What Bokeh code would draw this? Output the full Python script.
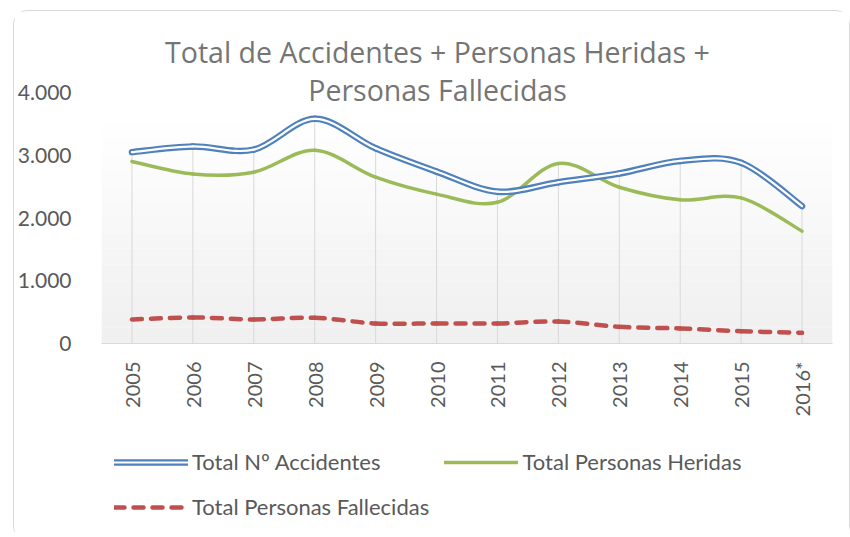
import math
from bokeh.plotting import figure
from bokeh.layouts import column
from bokeh.models import (Legend, LegendItem, Label, FixedTicker, BoxAnnotation,
                          ColumnDataSource, Range1d)
from bokeh.embed import file_html
from bokeh.resources import INLINE

# ---------------- data ----------------
years = ["2005", "2006", "2007", "2008", "2009", "2010",
         "2011", "2012", "2013", "2014", "2015", "2016*"]
accidentes = [3050, 3140, 3090, 3580, 3110, 2740, 2420, 2570, 2710, 2910, 2880, 2190]
heridas = [2900, 2700, 2730, 3080, 2650, 2380, 2250, 2870, 2490, 2290, 2320, 1790]
fallecidas = [383, 415, 383, 410, 320, 320, 320, 350, 265, 240, 196, 170]
y_ticks = [0, 1000, 2000, 3000, 4000]
y_tick_labels = ["0", "1.000", "2.000", "3.000", "4.000"]
title_lines = ["Total de Accidentes + Personas Heridas +", "Personas Fallecidas"]
series_names = ["Total Nº Accidentes", "Total Personas Heridas", "Total Personas Fallecidas"]

FONT = "Lato"
TITLE_FONT = "Open Sans"
TEXT = "#595959"
BLUE = "#4F81BD"
GREEN = "#9BBB59"
RED = "#C0504D"

idx = list(range(len(years)))


def smooth_source(vals):
    """Bezier control points (Excel-like smoothed line) from the data values."""
    n = len(vals)
    d = dict(x0=[], y0=[], x1=[], y1=[], cx0=[], cy0=[], cx1=[], cy1=[])
    for i in range(n - 1):
        p0 = (idx[max(i - 1, 0)], vals[max(i - 1, 0)])
        p1 = (idx[i], vals[i])
        p2 = (idx[i + 1], vals[i + 1])
        p3 = (idx[min(i + 2, n - 1)], vals[min(i + 2, n - 1)])
        d["x0"].append(p1[0]); d["y0"].append(p1[1])
        d["x1"].append(p2[0]); d["y1"].append(p2[1])
        d["cx0"].append(p1[0] + (p2[0] - p0[0]) / 6.0)
        d["cy0"].append(p1[1] + (p2[1] - p0[1]) / 6.0)
        d["cx1"].append(p2[0] - (p3[0] - p1[0]) / 6.0)
        d["cy1"].append(p2[1] - (p3[1] - p1[1]) / 6.0)
    return ColumnDataSource(d)


# style constants
A_STYLE = dict(line_color=BLUE, line_width=6.5, line_cap="round", line_join="round")
A_INNER = dict(line_color="white", line_width=2.2, line_cap="round", line_join="round")
H_STYLE = dict(line_color=GREEN, line_width=3.5, line_cap="round")
F_STYLE = dict(line_color=RED, line_width=4.5, line_dash="10 9", line_cap="round")

# layout: frame from y=0 (bottom) up to above the title so the title can overlap it
FRAME_H = 313          # px
SCALE_H = 251          # px spanned by 0..4000
y_top = 4000 * FRAME_H / SCALE_H

W = 835
H1 = 422
p = figure(width=W, height=H1, output_backend="svg", toolbar_location=None,
           x_range=Range1d(-0.5, len(years) - 0.5), y_range=Range1d(0, y_top),
           min_border_left=87, min_border_right=17, min_border_top=H1 - 90 - FRAME_H,
           min_border_bottom=90)
p.title.visible = False
p.outline_line_color = None
p.background_fill_color = "white"
p.border_fill_color = "white"
p.xgrid.visible = False
p.ygrid.visible = False

# plot-area gradient (style only)
nb = 14
gtop = 3525
for k in range(nb):
    c = int(round(255 - (255 - 239) * (k + 0.5) / nb))
    p.add_layout(BoxAnnotation(bottom=gtop - (k + 1) * gtop / nb, top=gtop - k * gtop / nb,
                               fill_color="#%02x%02x%02x" % (c, c, c), fill_alpha=1,
                               line_color=None, level="underlay"))

# drop lines from highest series to axis
drop_top = [max(a, b, c) for a, b, c in zip(accidentes, heridas, fallecidas)]
p.segment(x0=idx, y0=[0] * len(idx), x1=idx, y1=drop_top, line_color="#d9d9d9", line_width=1)

# series
src_a = smooth_source(accidentes)
src_h = smooth_source(heridas)
src_f = smooth_source(fallecidas)
bz = ("x0", "y0", "x1", "y1", "cx0", "cy0", "cx1", "cy1")
p.bezier(*bz, source=src_f, **F_STYLE)
p.bezier(*bz, source=src_h, **H_STYLE)
p.bezier(*bz, source=src_a, **A_STYLE)
p.bezier(*bz, source=src_a, **A_INNER)

# axes
xa = p.xaxis[0]
xa.ticker = FixedTicker(ticks=idx)
xa.major_label_overrides = {i: y for i, y in zip(idx, years)}
xa.major_label_orientation = math.pi / 2
xa.major_label_text_font = FONT
xa.major_label_text_font_size = "20px"
xa.major_label_text_color = TEXT
xa.major_tick_line_color = None
xa.minor_tick_line_color = None
xa.axis_line_color = "#d9d9d9"
xa.major_label_standoff = 12

ya = p.yaxis[0]
ya.ticker = FixedTicker(ticks=y_ticks)
ya.major_label_overrides = {t: l for t, l in zip(y_ticks, y_tick_labels)}
ya.major_label_text_font = FONT
ya.major_label_text_font_size = "21px"
ya.major_label_text_color = TEXT
ya.major_tick_line_color = None
ya.minor_tick_line_color = None
ya.axis_line_color = None
ya.major_label_standoff = 24

# title (two lines, overlapping chart top like the original)
for txt, yy in zip(title_lines, [292, 254]):
    p.add_layout(Label(x=336, y=yy, x_units="screen", y_units="screen", text=txt,
                       text_font=TITLE_FONT, text_font_size="28.5px", text_color="#757575",
                       text_align="center", text_baseline="alphabetic"))

# ---------------- legend strip ----------------
H2 = 106
q = figure(width=W, height=H2, output_backend="svg", toolbar_location=None,
           x_range=Range1d(0, 1), y_range=Range1d(0, 1), min_border=0,
           x_axis_location=None, y_axis_location=None)
q.title.visible = False
q.grid.visible = False
q.outline_line_color = None
q.border_fill_color = "white"
q.background_fill_color = "white"
nan = float("nan")
la1 = q.line(x=[nan], y=[nan], **A_STYLE)
la2 = q.line(x=[nan], y=[nan], **A_INNER)
lh = q.line(x=[nan], y=[nan], **H_STYLE)
lf = q.line(x=[nan], y=[nan], **F_STYLE)


def make_legend(items, loc, spacing):
    return Legend(items=items, location=loc, orientation="horizontal",
                  glyph_width=74, glyph_height=26, label_height=26, label_standoff=4,
                  spacing=spacing, padding=0, margin=0, border_line_color=None,
                  background_fill_alpha=0, label_text_font=FONT,
                  label_text_font_size="22px", label_text_color=TEXT)


q.add_layout(make_legend([LegendItem(label=series_names[0], renderers=[la1, la2]),
                          LegendItem(label=series_names[1], renderers=[lh])], (13, 64), 64),
             "center")
q.add_layout(make_legend([LegendItem(label=series_names[2], renderers=[lf])], (13, 19), 0),
             "center")

layout = column(p, q, spacing=0)
layout.margin = (10, 0, 0, 13)
layout.styles = {"border": "1px solid #d9d9d9", "border-radius": "14px"}

open("out.html", "w").write(file_html(layout, INLINE))
